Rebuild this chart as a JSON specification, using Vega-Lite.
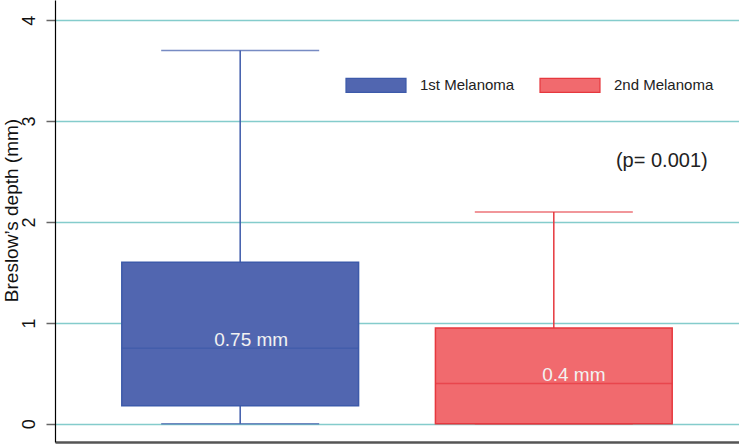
{
  "$schema": "https://vega.github.io/schema/vega-lite/v6.json",
  "width": 684,
  "height": 442,
  "autosize": {"type": "none"},
  "padding": {"left": 55, "top": 0, "right": 0, "bottom": 3},
  "config": {"font": "Liberation Sans", "view": {"stroke": null}},
  "data": {"values": [
    {"group": "1st Melanoma", "lower": 0, "q1": 0.18, "median": 0.75, "q3": 1.6, "upper": 3.7, "label": "0.75 mm"},
    {"group": "2nd Melanoma", "lower": 0, "q1": 0, "median": 0.4, "q3": 0.95, "upper": 2.1, "label": "0.4 mm"}
  ]},
  "encoding": {
    "x": {"field": "group", "type": "nominal", "sort": null,
      "scale": {"paddingInner": 0.245, "paddingOuter": 0.213},
      "axis": {"title": null, "labels": false, "ticks": false, "domainColor": "#555555", "domainWidth": 2.5, "grid": false}}
  },
  "layer": [
    {
      "mark": {"type": "rule", "strokeWidth": 1.5},
      "encoding": {
        "y": {"field": "lower", "type": "quantitative",
          "scale": {"domain": [-0.18, 4.2], "nice": false, "zero": false},
          "axis": {"title": "Breslow’s depth (mm)", "titleFontSize": 19, "titleFontWeight": "normal", "titleColor": "#111111",
            "titleX": -44, "titleY": 210, "titleAngle": -90, "titleBaseline": "middle", "titleAlign": "center",
            "values": [0, 1, 2, 3, 4], "format": "d", "labelAngle": -90, "labelFontSize": 18, "labelColor": "#111111", "labelPadding": 8,
            "tickSize": 9, "tickColor": "#666666", "tickWidth": 1.5,
            "domainColor": "#000000", "domainWidth": 1.2,
            "grid": true, "gridColor": "#84cccc", "gridWidth": 1.6}},
        "y2": {"field": "q1"},
        "stroke": {"field": "group", "type": "nominal",
          "scale": {"domain": ["1st Melanoma", "2nd Melanoma"], "range": ["#3d5aaa", "#e6383e"]}}
      }
    },
    {
      "mark": {"type": "rule", "strokeWidth": 1.5},
      "encoding": {
        "y": {"field": "q3", "type": "quantitative"},
        "y2": {"field": "upper"},
        "stroke": {"field": "group", "type": "nominal"}
      }
    },
    {
      "mark": {"type": "tick", "size": 158, "thickness": 1.5, "orient": "horizontal"},
      "encoding": {
        "y": {"field": "lower", "type": "quantitative"},
        "color": {"field": "group", "type": "nominal", "legend": null, "scale": {"range": ["#3d5aaa", "#e6383e"]}}
      }
    },
    {
      "mark": {"type": "tick", "size": 158, "thickness": 1.5, "orient": "horizontal"},
      "encoding": {
        "y": {"field": "upper", "type": "quantitative"},
        "color": {"field": "group", "type": "nominal", "legend": null}
      }
    },
    {
      "mark": {"type": "bar", "strokeWidth": 1.5, "fillOpacity": 1},
      "encoding": {
        "y": {"field": "q1", "type": "quantitative"},
        "y2": {"field": "q3"},
        "fill": {"field": "group", "type": "nominal",
          "scale": {"domain": ["1st Melanoma", "2nd Melanoma"], "range": ["#5166b0", "#f16a6e"]},
          "legend": {"title": null, "orient": "none", "legendX": 290, "legendY": 54, "direction": "horizontal", "columns": 2,
            "padding": 0, "columnPadding": 22, "labelOffset": 13, "labelFontSize": 15, "labelColor": "#222222",
            "symbolType": "M-1,-0.233L1,-0.233L1,0.233L-1,0.233Z", "symbolSize": 3600, "symbolStrokeWidth": 1.2, "symbolOpacity": 1}},
        "stroke": {"field": "group", "type": "nominal"}
      }
    },
    {
      "mark": {"type": "tick", "size": 237, "thickness": 1.5, "orient": "horizontal"},
      "encoding": {
        "y": {"field": "median", "type": "quantitative"},
        "color": {"field": "group", "type": "nominal", "legend": null}
      }
    },
    {
      "transform": [{"filter": "datum.group === '1st Melanoma'"}],
      "mark": {"type": "text", "fontSize": 19, "color": "#f2f2f2", "baseline": "alphabetic", "align": "center", "dx": 11, "dy": -2},
      "encoding": {
        "y": {"field": "median", "type": "quantitative"},
        "text": {"field": "label"}
      }
    },
    {
      "transform": [{"filter": "datum.group === '2nd Melanoma'"}],
      "mark": {"type": "text", "fontSize": 19, "color": "#f2f2f2", "baseline": "alphabetic", "align": "center", "dx": 20, "dy": -2},
      "encoding": {
        "y": {"field": "median", "type": "quantitative"},
        "text": {"field": "label"}
      }
    },
    {
      "data": {"values": [{"group": "2nd Melanoma", "pos": 2.6, "note": "(p= 0.001)"}]},
      "mark": {"type": "text", "fontSize": 20, "color": "#222222", "baseline": "middle", "align": "center", "dx": 108},
      "encoding": {
        "y": {"field": "pos", "type": "quantitative"},
        "text": {"field": "note"}
      }
    }
  ]
}
